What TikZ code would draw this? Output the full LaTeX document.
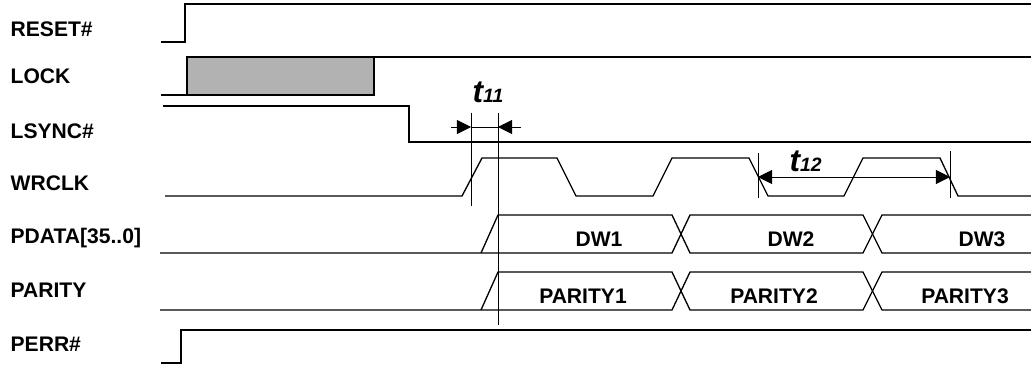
\documentclass[tikz,border=0pt]{standalone}
\usepackage{fontspec}
\setmainfont{Liberation Sans}
\usetikzlibrary{arrows.meta}

\definecolor{lockgray}{gray}{0.70}

\begin{document}
\begin{tikzpicture}[
  x=0.02cm,y=-0.02cm,
  line width=0.75pt,
  line join=miter,
  sig/.style={inner sep=0pt,anchor=base west,font=\bfseries\fontsize{12}{14}\selectfont},
  bus/.style={inner sep=0pt,anchor=base,font=\bfseries\fontsize{12}{14}\selectfont},
  tname/.style={inner sep=0pt,anchor=base west,font=\bfseries\itshape\fontsize{18}{18}\selectfont},
  marker/.style={line width=0.5pt},
  dimarrow/.style={-{Triangle[length=8pt,width=8pt]},line width=0.5pt}
]
  \useasboundingbox (0,0) rectangle (1031,368);

  % signal names
  \node[sig] (reset) at (10,37) {RESET\#};
  \node[sig] (lock) at (10,84) {LOCK};
  \node[sig] (lsync) at (10,138) {LSYNC\#};
  \node[sig] (wrclk) at (10,190) {WRCLK};
  \node[sig] (pdata) at (10,243) {PDATA[35..0]};
  \node[sig] (parity) at (10,297) {PARITY};
  \node[sig] (perr) at (10,351) {PERR\#};

  % waveforms
  \draw (161,42) -- (185,42) -- (185,4) -- (1031,4);
  \draw[fill=lockgray] (187,95) rectangle (374,57);
  \draw (161,95) -- (187,95);
  \draw (374,57) -- (1031,57);
  \draw (163,106) -- (409,106) -- (409,142) -- (1031,142);
  \draw (165,196) -- (462,196) -- (482,158) -- (557,158) -- (576,196) -- (653,196)
    -- (672,158) -- (749,158) -- (768,196) -- (844,196) -- (863,158) -- (940,158)
    -- (958,196) -- (1031,196);
  \draw (160,253) -- (672,253) -- (690,215) -- (863,215) -- (882,253) -- (1031,253);
  \draw (481,253) -- (498,215) -- (672,215) -- (690,253) -- (863,253) -- (882,215) -- (1031,215);
  \draw (160,310) -- (672,310) -- (690,272) -- (863,272) -- (882,310) -- (1031,310);
  \draw (481,310) -- (498,272) -- (672,272) -- (690,310) -- (863,310) -- (882,272) -- (1031,272);
  \draw (161,363) -- (181,363) -- (181,330) -- (1031,330);

  % bus values
  \node[bus] (dw1) at (599,246) {DW1};
  \node[bus] (dw2) at (791,246) {DW2};
  \node[bus] (dw3) at (982,246) {DW3};
  \node[bus] (par1) at (583,303) {PARITY1};
  \node[bus] (par2) at (774,303) {PARITY2};
  \node[bus] (par3) at (965,303) {PARITY3};

  % t11
  \coordinate (t11a) at (451,127);
  \coordinate (t11l) at (471,127);
  \coordinate (t11r) at (498,127);
  \coordinate (t11b) at (521,127);
  \draw[marker] (471,113) -- (471,206);
  \draw[marker] (498,113) -- (498,325);
  \draw[dimarrow] (t11a) -- (t11l);
  \draw[dimarrow] (t11b) -- (t11r);
  \draw[marker] (t11l) -- (t11r);
  \node[tname] (t11) at (472,103) {t{\fontsize{11}{11}\selectfont 11}};

  % t12
  \coordinate (t12l) at (758,177);
  \coordinate (t12r) at (950,177);
  \draw[marker] (758,153) -- (758,198);
  \draw[marker] (950,151) -- (950,198);
  \draw[dimarrow,{Triangle[length=8pt,width=8pt]}-{Triangle[length=8pt,width=8pt]}] (t12l) -- (t12r);
  \node[tname] (t12) at (789,172) {t{\fontsize{11}{11}\selectfont 12}};
\end{tikzpicture}
\end{document}
